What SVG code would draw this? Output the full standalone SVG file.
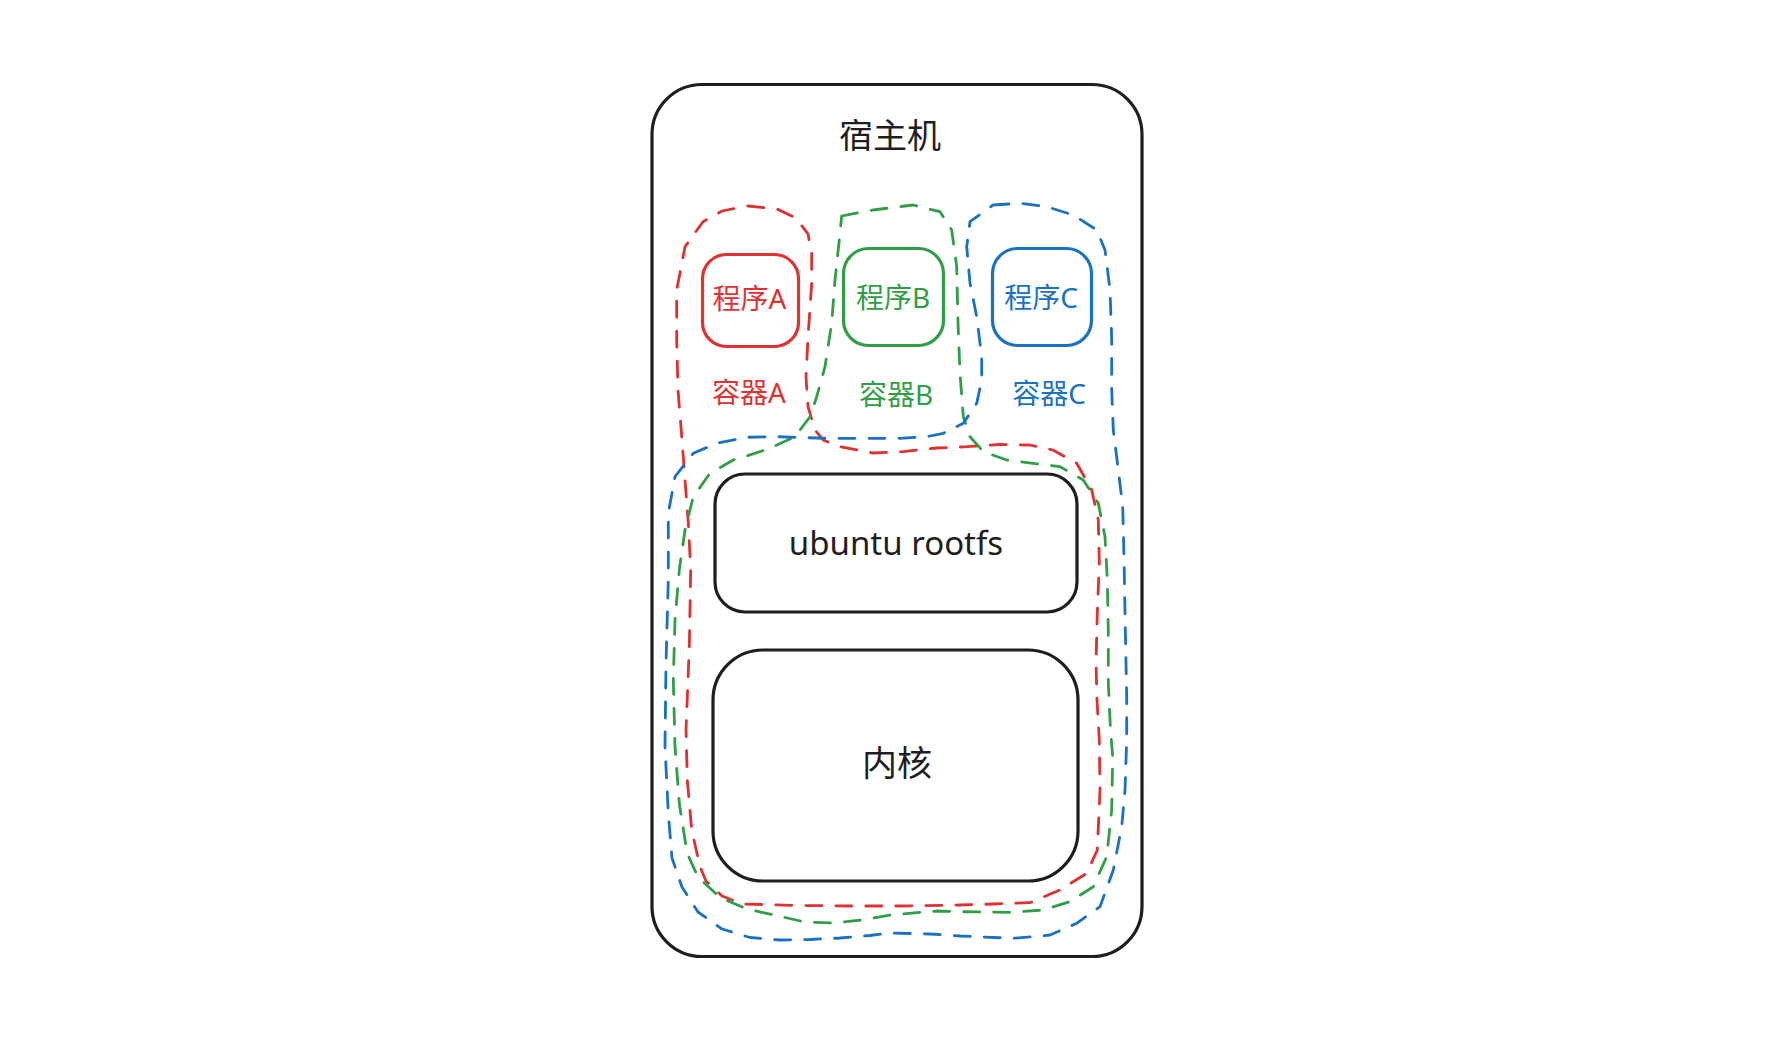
<svg xmlns="http://www.w3.org/2000/svg" width="1792" height="1054" viewBox="0 0 1792 1054">
<style>
.box{fill:none;stroke-width:3.2;stroke-linejoin:round}
.k{stroke:#1e1e1e}
.r{stroke:#e03131}
.g{stroke:#2f9e44}
.b{stroke:#1971c2}
.dash{fill:none;stroke-width:2.8;stroke-dasharray:16 14;stroke-linejoin:round;stroke-linecap:round}
text{font-family:"Noto Sans","Noto Sans CJK SC",sans-serif;text-anchor:middle}
.tk{fill:#1e1e1e}
.tr{fill:#e03131}
.tg{fill:#2f9e44}
.tb{fill:#1971c2}
</style>
<rect width="1792" height="1054" fill="#ffffff"/>
<g id="host">
<rect class="box k" x="652" y="84.5" width="490" height="872" rx="50"/>
<text class="tk" x="890" y="148" font-size="34">宿主机</text>
</g>
<g id="progA">
<rect class="box r" x="702.5" y="254.5" width="96" height="92" rx="24"/>
<text class="tr" x="749.5" y="309" font-size="28">程序A</text>
</g>
<g id="progB">
<rect class="box g" x="843.5" y="248.5" width="100" height="97" rx="25"/>
<text class="tg" x="893" y="308" font-size="28">程序B</text>
</g>
<g id="progC">
<rect class="box b" x="992.5" y="248.5" width="99" height="97" rx="25"/>
<text class="tb" x="1041" y="308" font-size="28">程序C</text>
</g>
<g id="rootfs">
<rect class="box k" x="715" y="474" width="362" height="138" rx="30"/>
<text class="tk" x="896" y="555" font-size="33">ubuntu rootfs</text>
</g>
<g id="kernel">
<rect class="box k" x="713" y="650" width="365" height="231" rx="50"/>
<text class="tk" x="897" y="776" font-size="35">内核</text>
</g>
<g id="containerA">
<text class="tr" x="749" y="403" font-size="28">容器A</text>
</g>
<g id="containerB">
<text class="tg" x="896" y="405" font-size="28">容器B</text>
</g>
<g id="containerC">
<text class="tb" x="1049" y="404" font-size="28">容器C</text>
</g>
<g id="connectors">
<path class="dash r" d="M748 206 L777 209 L796 218 L808 234 L811.7 253 L811.7 283 L808 337 L806 377 L808 406.7 L815 430 L823 440 L840 446.7 L873 453 L903 451.7 L936.7 448 L966.7 446.7 L1000 444.5 L1030 445 L1053 450 L1076.7 463.3 L1091.7 490 L1098.3 520 L1099.3 563 L1097.3 613 L1096 663 L1097 700 L1099.3 740 L1100 790 L1097.3 850 L1086.7 873.3 L1060 890 L1030 902.7 L993.3 904 L960 905 L900 906 L850 906 L800 905.5 L742 904 L722 896 L706 881 L700 866.7 L691.7 830 L687.3 780 L686 730 L689.3 646.7 L690.7 570 L688.3 523 L685 480 L682 440 L678 390 L676.7 340 L676.7 290 L685 246.7 L703 221.7 L722 211 Z"/>
<path class="dash g" d="M841.7 216 L873 210 L913 205 L940 211.7 L951.7 230 L956.7 266.7 L958 323 L960 373 L963.3 416.7 L970 436.7 L983.3 451.7 L1006.7 460 L1033 463.3 L1060 466.7 L1083.3 480 L1098.3 503.3 L1105 536.7 L1107.3 580 L1108.3 630 L1108.3 683 L1110.5 730 L1112.7 756.7 L1111.7 810 L1106.7 856.7 L1093.3 886.7 L1070 901.7 L1043.3 910 L1010 912.3 L960 911.7 L937 911 L890 915 L865 919.5 L835 923 L805 922 L776 915.5 L747 909 L720 897.5 L698 877 L687 853 L679.3 803.3 L675 746.7 L673.3 680 L675 620 L679.3 570 L685 530 L693.3 496.7 L710 473.3 L733.3 460 L760 451.7 L773.3 446.7 L795 436.7 L810 416.7 L816.7 396.7 L825 366.7 L831.7 323 L835 280 L840 233 Z"/>
<path class="dash b" d="M993 205 L1020 203.3 L1046.7 206.7 L1073.3 215 L1096.7 230 L1105 250 L1110 290 L1111.7 340 L1111.7 390 L1113.3 430 L1118.3 470 L1122.7 506.7 L1124 556.7 L1125 613 L1126 663 L1126.7 696.7 L1126.7 740 L1125 790 L1121.7 826.7 L1113.3 870 L1100 906.7 L1076.7 923.3 L1050 935 L1013.3 938.3 L960 936 L930 934 L890 933 L870 935.5 L840 938 L810 939.5 L780 940 L750 937.5 L722 929 L698 912 L682 887 L672 858 L668.3 813.3 L665 746.7 L666 663.3 L668.3 580 L668.3 513.3 L675 476.7 L693.3 453.3 L716.7 443.3 L746.7 437.3 L776.7 436.7 L826.7 438.3 L876.7 438.3 L900 438.3 L926.7 436.7 L943.3 433.3 L963.3 423.3 L976.7 403.3 L981.7 380 L981.7 356.7 L976.7 316.7 L970 283 L966.7 246.7 L970 221.7 Z"/>
</g>
</svg>
